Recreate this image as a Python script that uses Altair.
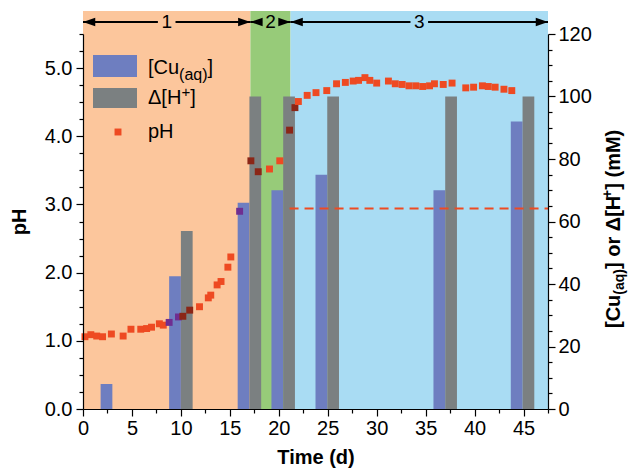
import altair as alt
import pandas as pd

FONT = "Liberation Sans"

# ---------------- data ----------------
region_names = ["1", "2", "3"]
region_start = [0.0, 17.1, 21.2]
region_end = [17.1, 21.2, 47.5]

sample_day = [3.0, 10.0, 17.0, 20.45, 24.95, 37.0, 44.9]
cu_mM = [8.0, 42.5, 66.0, 70.0, 75.0, 70.0, 92.0]
dh_mM = [None, 57.0, 100.0, 100.0, 100.0, 100.0, 100.0]

ph_day = [0.2, 0.8, 1.4, 2.0, 2.9, 4.1, 4.9, 5.9, 6.5, 7.0, 7.8, 8.2, 8.8,
          9.75, 10.2, 10.9, 11.9, 12.8, 13.05, 13.7, 14.1, 14.8, 15.1, 16.0,
          17.15, 17.9, 19.05, 20.1, 21.1, 21.65, 22.0, 22.9, 23.8, 24.9, 25.9,
          26.8, 27.6, 28.15, 28.8, 29.3, 30.0, 31.2, 31.9, 32.6, 33.3, 34.0,
          34.7, 35.4, 35.9, 36.8, 37.7, 39.1, 39.9, 40.8, 41.4, 42.1, 43.0, 43.8]
ph_value = [1.06, 1.09, 1.07, 1.06, 1.10, 1.07, 1.17, 1.17, 1.18, 1.20, 1.25, 1.23, 1.27,
            1.35, 1.36, 1.45, 1.50, 1.63, 1.67, 1.82, 1.87, 2.08, 2.23, 2.90,
            3.64, 3.48, 3.52, 3.64, 4.09, 4.42, 4.51, 4.60, 4.64, 4.67, 4.77,
            4.79, 4.81, 4.82, 4.86, 4.82, 4.78, 4.81, 4.77, 4.76, 4.74, 4.74,
            4.73, 4.74, 4.77, 4.76, 4.78, 4.71, 4.72, 4.74, 4.73, 4.72, 4.69, 4.67]

ref_start = 21.1
ref_end = 47.5
ref_mM = 64.2

# ---------------- styles ----------------
W, H = 465, 375
BAR_W = 1.2
PEACH, GREEN, LBLUE = "#FCC69C", "#97CB79", "#A9DCF3"
BLUE, GRAY = "#6E7EC0", "#7B8081"
RED, PURPLE, DARKRED = "#EE4A22", "#6F2E91", "#8B2617"

XS = alt.Scale(domain=[0, 47.5], nice=False, zero=False)
YL = alt.Scale(domain=[0, 5.5], nice=False)
YR = alt.Scale(domain=[0, 120], nice=False)

# ---------------- tables ----------------
bars_rows = []
for t, c, h in zip(sample_day, cu_mM, dh_mM):
    bars_rows.append({"series": "cu", "x0": t - BAR_W, "x1": t, "val": c})
    if h is not None:
        bars_rows.append({"series": "dh", "x0": t, "x1": t + BAR_W, "val": h})
bars_df = pd.DataFrame(bars_rows)

MM_PER_PH = 120 / 5.5


def under(d, p):
    for r in bars_rows:
        if r["x0"] <= d <= r["x1"] and p * MM_PER_PH <= r["val"]:
            return r["series"]
    return "none"


ph_df = pd.DataFrame({"day": ph_day, "ph": ph_value})
ph_df["under"] = [under(d, p) for d, p in zip(ph_day, ph_value)]

reg_df = pd.DataFrame({"region": region_names, "start": region_start, "end": region_end})
GAP = 0.9
reg_df["mid"] = (reg_df["start"] + reg_df["end"]) / 2
reg_df["l_end"] = reg_df["mid"] - GAP
reg_df["r_start"] = reg_df["mid"] + GAP

dash_df = pd.DataFrame({"x0": [ref_start], "x1": [ref_end], "v": [ref_mM]})
one = pd.DataFrame({"k": [0]})

common_axis = dict(grid=False, domainColor="black", tickColor="black", labelColor="black",
                   titleColor="black", labelFont=FONT, labelFontSize=20, titleFont=FONT,
                   titleFontSize=20, titleFontWeight="bold", labelOverlap=False,
                   domainWidth=1.2, tickWidth=1.2, zindex=2)

x_axis = alt.Axis(values=[i * 2.5 for i in range(20)],
                  labelExpr="datum.value % 5 === 0 ? format(datum.value, 'd') : ''",
                  tickSize={"condition": {"test": "datum.value % 5 === 0", "value": 7}, "value": 4},
                  title="Time (d)", labelPadding=2, titlePadding=9, labelFlush=False,
                  **common_axis)
y_left = alt.Axis(orient="left", values=[i * 0.25 for i in range(23)],
                  labelExpr="datum.value % 1 === 0 ? format(datum.value, '.1f') : ''",
                  tickSize={"condition": {"test": "datum.value % 1 === 0", "value": 7}, "value": 4},
                  title="pH", labelPadding=4, titlePadding=15, **common_axis)
y_right = alt.Axis(orient="right", values=[i * 5 for i in range(25)],
                   labelExpr="datum.value % 20 === 0 ? format(datum.value, 'd') : ''",
                   tickSize={"condition": {"test": "datum.value % 20 === 0", "value": 7}, "value": 4},
                   title=None, labelPadding=3, **common_axis)


def X(field):
    return alt.X(field, scale=XS, axis=x_axis)


# ---------------- layers ----------------
bg = alt.Chart(reg_df).mark_rect().encode(
    x=X("start:Q"),
    x2="end:Q",
    y=alt.value(-23), y2=alt.value(H),
    color=alt.Color("region:N", scale=alt.Scale(domain=region_names, range=[PEACH, GREEN, LBLUE]),
                    legend=None),
)

bars = alt.Chart(bars_df).mark_rect().encode(
    x=X("x0:Q"),
    x2="x1:Q",
    y=alt.Y("val:Q", scale=YR, axis=y_right),
    y2=alt.datum(0),
    color=alt.Color("series:N", scale=alt.Scale(domain=["cu", "dh"], range=[BLUE, GRAY]), legend=None),
)
dash = alt.Chart(dash_df).mark_rule(color=RED, strokeWidth=2, strokeDash=[9, 6]).encode(
    x=X("x0:Q"), x2="x1:Q",
    y=alt.Y("v:Q", scale=YR, axis=y_right),
)

pts = alt.Chart(ph_df).mark_square(size=48, opacity=1).encode(
    x=X("day:Q"),
    y=alt.Y("ph:Q", scale=YL, axis=y_left),
    color=alt.Color("under:N", scale=alt.Scale(domain=["none", "cu", "dh"], range=[RED, PURPLE, DARKRED]),
                    legend=None),
)

AY = -12
LEFT_HEAD = "M0,0L2,-0.7L2,0.7Z"
RIGHT_HEAD = "M0,0L-2,-0.7L-2,0.7Z"
arr_base = alt.Chart(reg_df)
seg1 = arr_base.mark_rule(color="black", strokeWidth=2).encode(
    x=X("start:Q"), x2="l_end:Q", y=alt.value(AY))
seg2 = arr_base.mark_rule(color="black", strokeWidth=2).encode(
    x=X("r_start:Q"), x2="end:Q", y=alt.value(AY))
headL = arr_base.mark_point(shape=LEFT_HEAD, filled=True, size=150, color="black", opacity=1,
                            strokeWidth=0).encode(x=X("start:Q"), y=alt.value(AY))
headR = arr_base.mark_point(shape=RIGHT_HEAD, filled=True, size=150, color="black", opacity=1,
                            strokeWidth=0).encode(x=X("end:Q"), y=alt.value(AY))
rlab = arr_base.mark_text(font=FONT, fontSize=19, color="black", baseline="middle", align="center").encode(
    x=X("mid:Q"), y=alt.value(AY), text="region:N")


def txt(s, x, y, size, bold=False, angle=0):
    return alt.Chart(one).mark_text(text=s, font=FONT, fontSize=size,
                                    fontWeight="bold" if bold else "normal", angle=angle,
                                    align="left", baseline="middle", color="black").encode(
        x=alt.value(x), y=alt.value(y))


def box(x, x2, y, y2, col):
    return alt.Chart(one).mark_rect(color=col).encode(
        x=alt.value(x), x2=alt.value(x2), y=alt.value(y), y2=alt.value(y2))


legend = [
    box(10, 54, 21, 43, BLUE),
    box(10, 54, 54, 74, GRAY),
    alt.Chart(one).mark_square(size=48, color=RED, opacity=1).encode(x=alt.value(35), y=alt.value(98)),
    txt("[Cu", 65, 34, 20),
    txt("(aq)", 96.1, 41, 16),
    txt("]", 124.5, 34, 20),
    txt("Δ[H", 65, 64, 20),
    txt("+", 98.4, 58, 15),
    txt("]", 107.2, 64, 20),
    txt("pH", 65, 98, 20),
]

TX = 531
rtitle = [
    txt("[Cu", TX, 294, 20, True, 270),
    txt("(aq)", TX + 6, 260.7, 14, True, 270),
    txt("] or Δ[H", TX, 235.0, 20, True, 270),
    txt("+", TX - 6, 163.9, 14, True, 270),
    txt("] (mM)", TX, 155.7, 20, True, 270),
]

chart = alt.layer(
    bg,
    alt.layer(bars, dash),
    pts,
    seg1, seg2, headL, headR, rlab,
    *legend,
    *rtitle,
).resolve_scale(y="independent", color="independent").properties(
    width=W, height=H,
    autosize=alt.AutoSizeParams(type="none"),
    padding={"left": 83, "top": 34, "right": 80, "bottom": 60},
    background="white",
).configure_view(strokeWidth=0)

chart.save("out.html", embed_options={"renderer": "svg", "actions": False})
